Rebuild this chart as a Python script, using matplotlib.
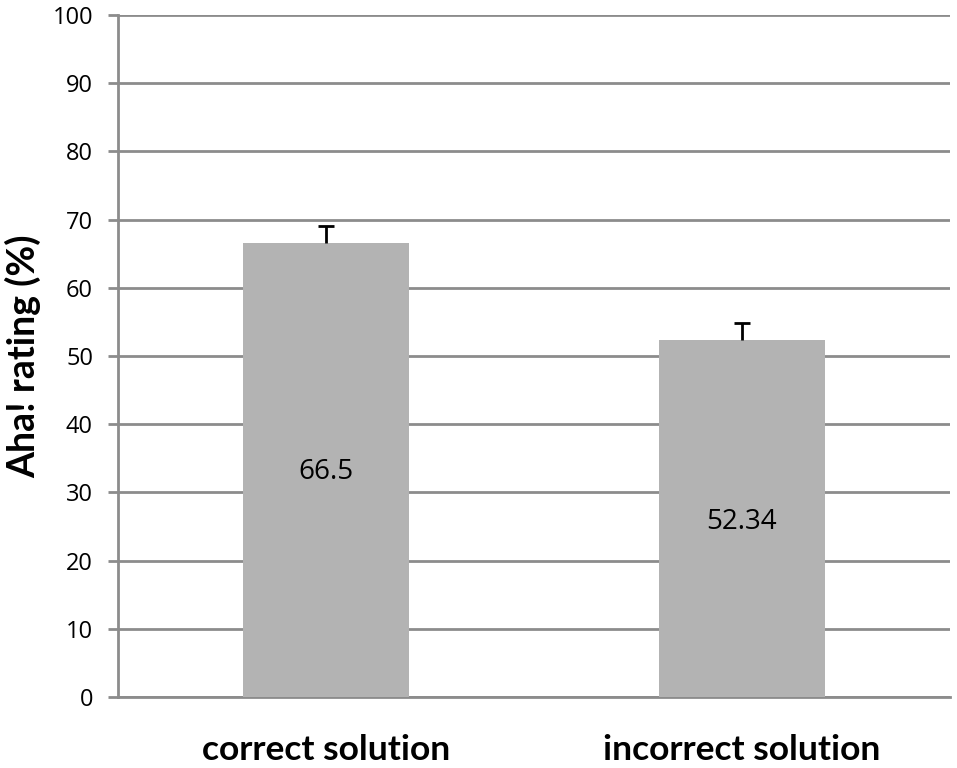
import matplotlib.pyplot as plt
import numpy as np

plt.rcParams['font.family'] = ['Open Sans', 'DejaVu Sans']

categories = ["correct solution", "incorrect solution"]
values = [66.5, 52.34]
errors = [2.5, 2.5]
value_labels = ["66.5", "52.34"]
value_label_y = [33, 25.7]

fig = plt.figure(figsize=(9.57, 7.68), dpi=100)
ax = fig.add_axes([118 / 957, 1 - 697 / 768, 832 / 957, (697 - 15) / 768])

x = np.arange(len(categories))
vals = np.array(values)
tops = vals + np.array(errors)
ax.bar(x, vals, width=0.4, color="#b3b3b3", zorder=3)

# upper error bars only (T shape)
ax.vlines(x, vals, tops, color="black", linewidth=2, zorder=4)
ax.hlines(tops, x - 0.019, x + 0.019, color="black", linewidth=2, zorder=4)

for xi, lab, ly in zip(x, value_labels, value_label_y):
    ax.text(xi, ly, lab, ha="center", va="center", fontsize=20, zorder=5)

ax.set_xlim(-0.5, 1.5)
ax.set_ylim(0, 100)
ax.set_yticks(np.arange(0, 101, 10))
ax.yaxis.grid(True, color="#8c8c8c", linewidth=2, zorder=0)
ax.set_axisbelow(True)

for side in ["top", "right"]:
    ax.spines[side].set_visible(False)
ax.spines["left"].set_color("#8c8c8c")
ax.spines["left"].set_linewidth(2)
ax.spines["bottom"].set_color("#8c8c8c")
ax.spines["bottom"].set_linewidth(2)

ax.tick_params(axis="y", length=7, width=2, color="#8c8c8c", labelsize=17, pad=11)
ax.tick_params(axis="x", length=0, pad=27)
ax.set_xticks(x)
ax.set_xticklabels(categories, fontsize=25.5, fontweight="bold", family="Lato")
ax.set_ylabel("Aha! rating (%)", fontsize=27, fontweight="bold", family="Lato", labelpad=8)

fig.savefig("out.png", dpi=100)
